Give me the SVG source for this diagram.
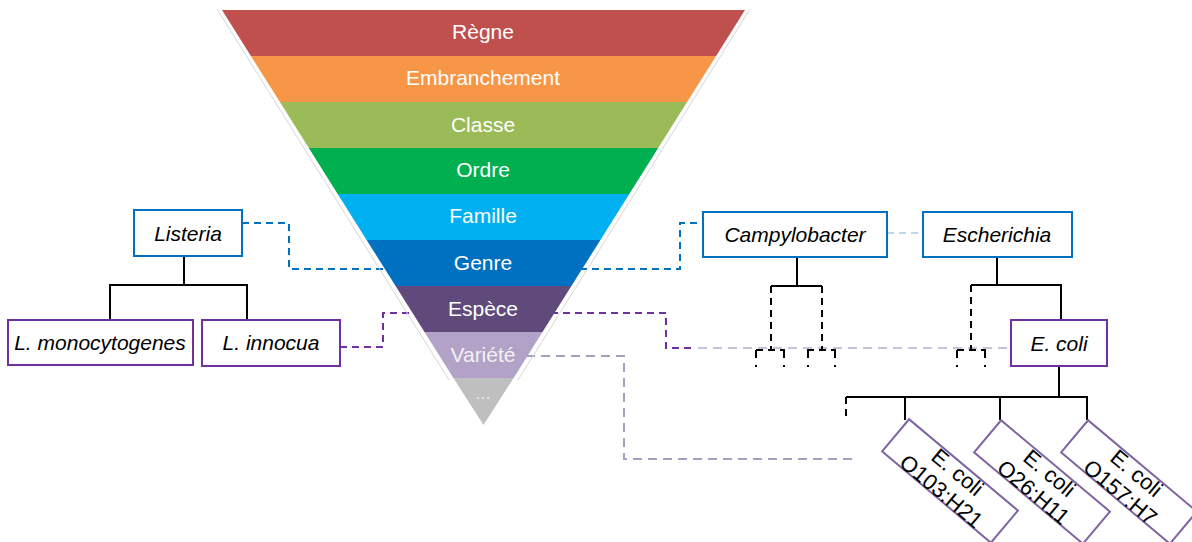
<svg xmlns="http://www.w3.org/2000/svg" width="1192" height="542" viewBox="0 0 1192 542">
<style>
.band text{font-family:"Liberation Sans",Arial,sans-serif;font-size:21px;fill:#fff;text-anchor:middle}
.box rect{fill:#fff;stroke-width:2}
.box text{font-family:"Liberation Sans",Arial,sans-serif;font-size:21px;font-style:italic;fill:#000;text-anchor:middle}
.blue rect{stroke:#0070C0}
.purple rect{stroke:#7030A0}
.rot rect{fill:#fff;stroke:#8064A2;stroke-width:2}
.rot text{font-family:"Liberation Sans",Arial,sans-serif;font-size:22px;fill:#000;text-anchor:middle}
.solid{fill:none;stroke:#000;stroke-width:2}
.dblack{fill:none;stroke:#000;stroke-width:2;stroke-dasharray:7,5}
.dsub{fill:none;stroke:#000;stroke-width:2;stroke-dasharray:8,7,2,20}
.dblue{fill:none;stroke:#0070C0;stroke-width:2;stroke-dasharray:7,5}
.dlblue{fill:none;stroke:#BDD7EE;stroke-width:2;stroke-dasharray:7,5}
.dpurple{fill:none;stroke:#7030A0;stroke-width:2;stroke-dasharray:7,5}
.dlpurple{fill:none;stroke:#CCC0DA;stroke-width:2;stroke-dasharray:9,6}
.dgray{fill:none;stroke:#A6A0BE;stroke-width:2;stroke-dasharray:9,6}
</style>
<rect width="1192" height="542" fill="#fff"/>

<g id="connectors">
  <polyline class="dblue" points="242,223 289,223 289,269 388,269"/>
  <polyline class="dblue" points="580,269 680,269 680,223 703,223"/>
  <line class="dlblue" x1="887" y1="233" x2="923" y2="233"/>
  <polyline class="dpurple" points="340,347 383,347 383,313 416,313"/>
  <polyline class="dpurple" points="551,313 666,313 666,348 695,348"/>
  <line class="dlpurple" x1="698" y1="348" x2="1011" y2="348"/>
  <polyline class="dgray" points="526,356 624,356 624,459 858,459"/>
  <!-- Listeria tree -->
  <polyline class="solid" points="184,256 184,285"/>
  <polyline class="solid" points="110,320 110,285 247,285 247,320"/>
  <!-- Campylobacter tree -->
  <line class="solid" x1="797" y1="257" x2="797" y2="286"/>
  <line class="solid" x1="771" y1="286" x2="822" y2="286"/>
  <line class="dblack" x1="771" y1="286" x2="771" y2="350"/>
  <line class="dblack" x1="822" y1="286" x2="822" y2="350"/>
  <line class="dblack" x1="756" y1="350" x2="785" y2="350"/>
  <line class="dblack" x1="807" y1="350" x2="836" y2="350"/>
  <line class="dsub" x1="756" y1="350" x2="756" y2="369"/>
  <line class="dsub" x1="784" y1="350" x2="784" y2="369"/>
  <line class="dsub" x1="808" y1="350" x2="808" y2="369"/>
  <line class="dsub" x1="835" y1="350" x2="835" y2="369"/>
  <!-- Escherichia tree -->
  <line class="solid" x1="997" y1="257" x2="997" y2="285"/>
  <polyline class="solid" points="971,285 1061,285 1061,320"/>
  <line class="dblack" x1="971" y1="285" x2="971" y2="350"/>
  <line class="dblack" x1="957" y1="350" x2="986" y2="350"/>
  <line class="dsub" x1="957" y1="350" x2="957" y2="369"/>
  <line class="dsub" x1="985" y1="350" x2="985" y2="369"/>
  <!-- E. coli tree -->
  <line class="solid" x1="1059" y1="366" x2="1059" y2="397"/>
  <line class="solid" x1="846" y1="397" x2="1088" y2="397"/>
  <line class="dblack" x1="846" y1="397" x2="846" y2="420"/>
  <line class="solid" x1="905" y1="397" x2="905" y2="420"/>
  <line class="solid" x1="1000" y1="397" x2="1000" y2="420"/>
  <line class="solid" x1="1087" y1="397" x2="1087" y2="420"/>
</g>

<g id="funnel">
  <line x1="217" y1="9" x2="449" y2="380" stroke="#D6D6D6" stroke-width="1"/>
  <line x1="750" y1="9" x2="518" y2="380" stroke="#D6D6D6" stroke-width="1"/>
  <g id="band-regne" class="band"><polygon points="222,10 745,10 716.1,56 250.9,56" fill="#C0504D"/><text x="483" y="39">Règne</text></g>
  <g id="band-embranchement" class="band"><polygon points="250.9,56 716.1,56 687.1,102 279.9,102" fill="#F79646"/><text x="483" y="85">Embranchement</text></g>
  <g id="band-classe" class="band"><polygon points="279.9,102 687.1,102 658.2,148 308.8,148" fill="#9BBB59"/><text x="483" y="132">Classe</text></g>
  <g id="band-ordre" class="band"><polygon points="308.8,148 658.2,148 629.3,194 337.7,194" fill="#00B050"/><text x="483" y="177">Ordre</text></g>
  <g id="band-famille" class="band"><polygon points="337.7,194 629.3,194 600.4,240 366.6,240" fill="#00B0F0"/><text x="483" y="223">Famille</text></g>
  <g id="band-genre" class="band"><polygon points="366.6,240 600.4,240 571.4,286 395.6,286" fill="#0070C0"/><text x="483" y="270">Genre</text></g>
  <g id="band-espece" class="band"><polygon points="395.6,286 571.4,286 542.5,332 424.5,332" fill="#604A7B"/><text x="483" y="316">Espèce</text></g>
  <g id="band-variete" class="band"><polygon points="424.5,332 542.5,332 513.6,378 453.4,378" fill="#B3A2C7"/><text x="483" y="362" style="fill:#F2F2F2">Variété</text></g>
  <g id="band-etc" class="band"><polygon points="453.4,378 513.6,378 483.5,425" fill="#BFBFBF"/><text x="483" y="399" style="fill:#F2F2F2;font-size:16px">…</text></g>
</g>

<g id="node-listeria" class="box blue"><rect x="134" y="210" width="108" height="46"/><text x="188" y="241">Listeria</text></g>
<g id="node-lmono" class="box purple"><rect x="8" y="320" width="185" height="45"/><text x="100" y="350">L. monocytogenes</text></g>
<g id="node-linnocua" class="box purple"><rect x="202" y="320" width="138" height="46"/><text x="271" y="350">L. innocua</text></g>
<g id="node-campylobacter" class="box blue"><rect x="703" y="212" width="184" height="45"/><text x="795" y="242">Campylobacter</text></g>
<g id="node-escherichia" class="box blue"><rect x="923" y="212" width="149" height="45"/><text x="997" y="242">Escherichia</text></g>
<g id="node-ecoli" class="box purple"><rect x="1011" y="320" width="96" height="46"/><text x="1059" y="351">E. coli</text></g>

<g id="node-o103" class="rot" transform="translate(950,481) rotate(40)"><rect x="-71" y="-21" width="142" height="42"/><text x="0" y="-4">E. coli</text><text x="0" y="21">O103:H21</text></g>
<g id="node-o26" class="rot" transform="translate(1042,482) rotate(40)"><rect x="-71" y="-21" width="142" height="42"/><text x="0" y="-4">E. coli</text><text x="0" y="21">O26:H11</text></g>
<g id="node-o157" class="rot" transform="translate(1129,482) rotate(40)"><rect x="-71" y="-21" width="142" height="42"/><text x="0" y="-4">E. coli</text><text x="0" y="21">O157:H7</text></g>
</svg>
